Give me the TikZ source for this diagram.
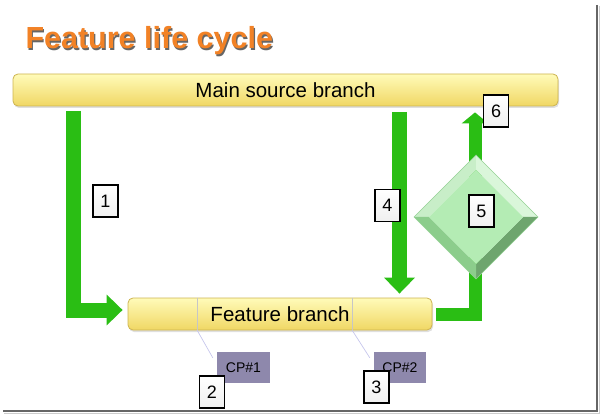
\documentclass[tikz,border=0pt]{standalone}
\usepackage{fontspec}
\setmainfont{Liberation Sans}
\usetikzlibrary{arrows.meta,shadows,calc}
\definecolor{ttlorange}{RGB}{242,130,38}
\definecolor{grn}{RGB}{42,190,20}
\definecolor{bartop}{RGB}{255,251,185}
\definecolor{barbot}{RGB}{240,215,100}
\definecolor{barline}{RGB}{205,180,80}
\definecolor{cpfill}{RGB}{142,136,172}
\definecolor{dmA}{RGB}{200,238,200}
\definecolor{dmB}{RGB}{218,246,218}
\definecolor{dmC}{RGB}{110,165,110}
\definecolor{dmD}{RGB}{140,205,140}
\definecolor{dmF}{RGB}{180,236,180}
\begin{document}
\begin{tikzpicture}[x=1pt,y=-1pt,
  bar/.style={draw=barline, line width=0.8pt, rounded corners=5pt,
    top color=bartop, bottom color=barbot, inner sep=0pt,
    drop shadow={opacity=0.25, shadow xshift=1pt, shadow yshift=-2pt},
    font=\fontsize{20.5}{22}\selectfont},
  numbox/.style={draw=black, line width=1.2pt, top color=white, bottom color=gray!12,
    minimum width=25pt, minimum height=32pt, inner sep=0pt,
    font=\fontsize{18}{18}\selectfont},
  cpbox/.style={fill=cpfill, minimum width=53pt, minimum height=31pt, inner sep=0pt,
    text=black, font=\fontsize{14}{14}\selectfont},
  garrow/.style={draw=grn, line width=15pt, line join=miter},
  divider/.style={draw=gray!45, line width=0.6pt},
  cpline/.style={draw=gray!50!blue!30, line width=0.7pt}]
\useasboundingbox (0,0) rectangle (600,414);
% frame shadow
\draw[gray!80!black, line width=2.5pt] (597,5) -- (597,411) -- (3,411);
\draw[gray!40, line width=1pt] (599.3,6) -- (599.3,413.3) -- (4,413.3);
% title
\node[anchor=base west, text=black!60, font=\fontsize{30.5}{30}\selectfont\bfseries] (titleshadow) at (23.2,50.2) {Feature life cycle};
\node[anchor=base west, text=ttlorange, font=\fontsize{30.5}{30}\selectfont\bfseries] (title) at (22,49) {Feature life cycle};
% bars
\node[bar, minimum width=545pt, minimum height=32pt] (main) at (285.5,90) {Main source branch};
\node[bar, minimum width=304pt, minimum height=32pt] (feature) at (280,314) {Feature branch};
\coordinate (d1) at (197,330);
\coordinate (d2) at (352,330);
\draw[divider] (d1) -- (d1 |- feature.north);
\draw[divider] (d2) -- (d2 |- feature.north);
% CP boxes
\node[cpbox] (cp1) at (243.5,367.5) {CP\#1};
\node[cpbox, minimum width=52pt] (cp2) at (400,367.5) {CP\#2};
\draw[cpline] (d1) -- ([xshift=-4pt,yshift=-6pt]cp1.north west);
\draw[cpline] (d2) -- ([xshift=-4pt,yshift=-6pt]cp2.north west);
% arrows
\coordinate (a1s) at (73,111);
\draw[garrow, -{Triangle[width=30pt,length=16pt]}, shorten >=5pt] (a1s) |- ([yshift=4pt]feature.west);
\coordinate (a4s) at (399.5,112);
\draw[garrow, -{Triangle[width=30pt,length=16pt]}, shorten >=4pt] (a4s) -- (a4s |- feature.north);
\coordinate (a6x) at (475,0);
\draw[garrow, line width=13pt, -{Triangle[width=26pt,length=11pt]}, shorten <=4pt, shorten >=6pt] (feature.east) -| (a6x |- main.south);
% diamond
\begin{scope}[shift={(476,217)}]
  \fill[dmA] (-62,0) -- (0,-62) -- (0,-47) -- (-47,0) -- cycle;
  \fill[dmB] (0,-62) -- (62,0) -- (47,0) -- (0,-47) -- cycle;
  \fill[dmC] (62,0) -- (0,62) -- (0,47) -- (47,0) -- cycle;
  \fill[dmD] (0,62) -- (-62,0) -- (-47,0) -- (0,47) -- cycle;
  \fill[dmF] (0,-47) -- (47,0) -- (0,47) -- (-47,0) -- cycle;
  \draw[green!40!gray!60, line width=0.5pt] (-62,0) -- (0,-62) -- (62,0) -- (0,62) -- cycle;
\end{scope}
% labels
\node[numbox] (n1) at (105.5,201) {1};
\node[numbox] (n2) at (212,392) {2};
\node[numbox] (n3) at (376.5,387) {3};
\node[numbox] (n4) at (387.5,205.5) {4};
\node[numbox] (n5) at (481.5,211) {5};
\node[numbox] (n6) at (496,111) {6};
\end{tikzpicture}
\end{document}
